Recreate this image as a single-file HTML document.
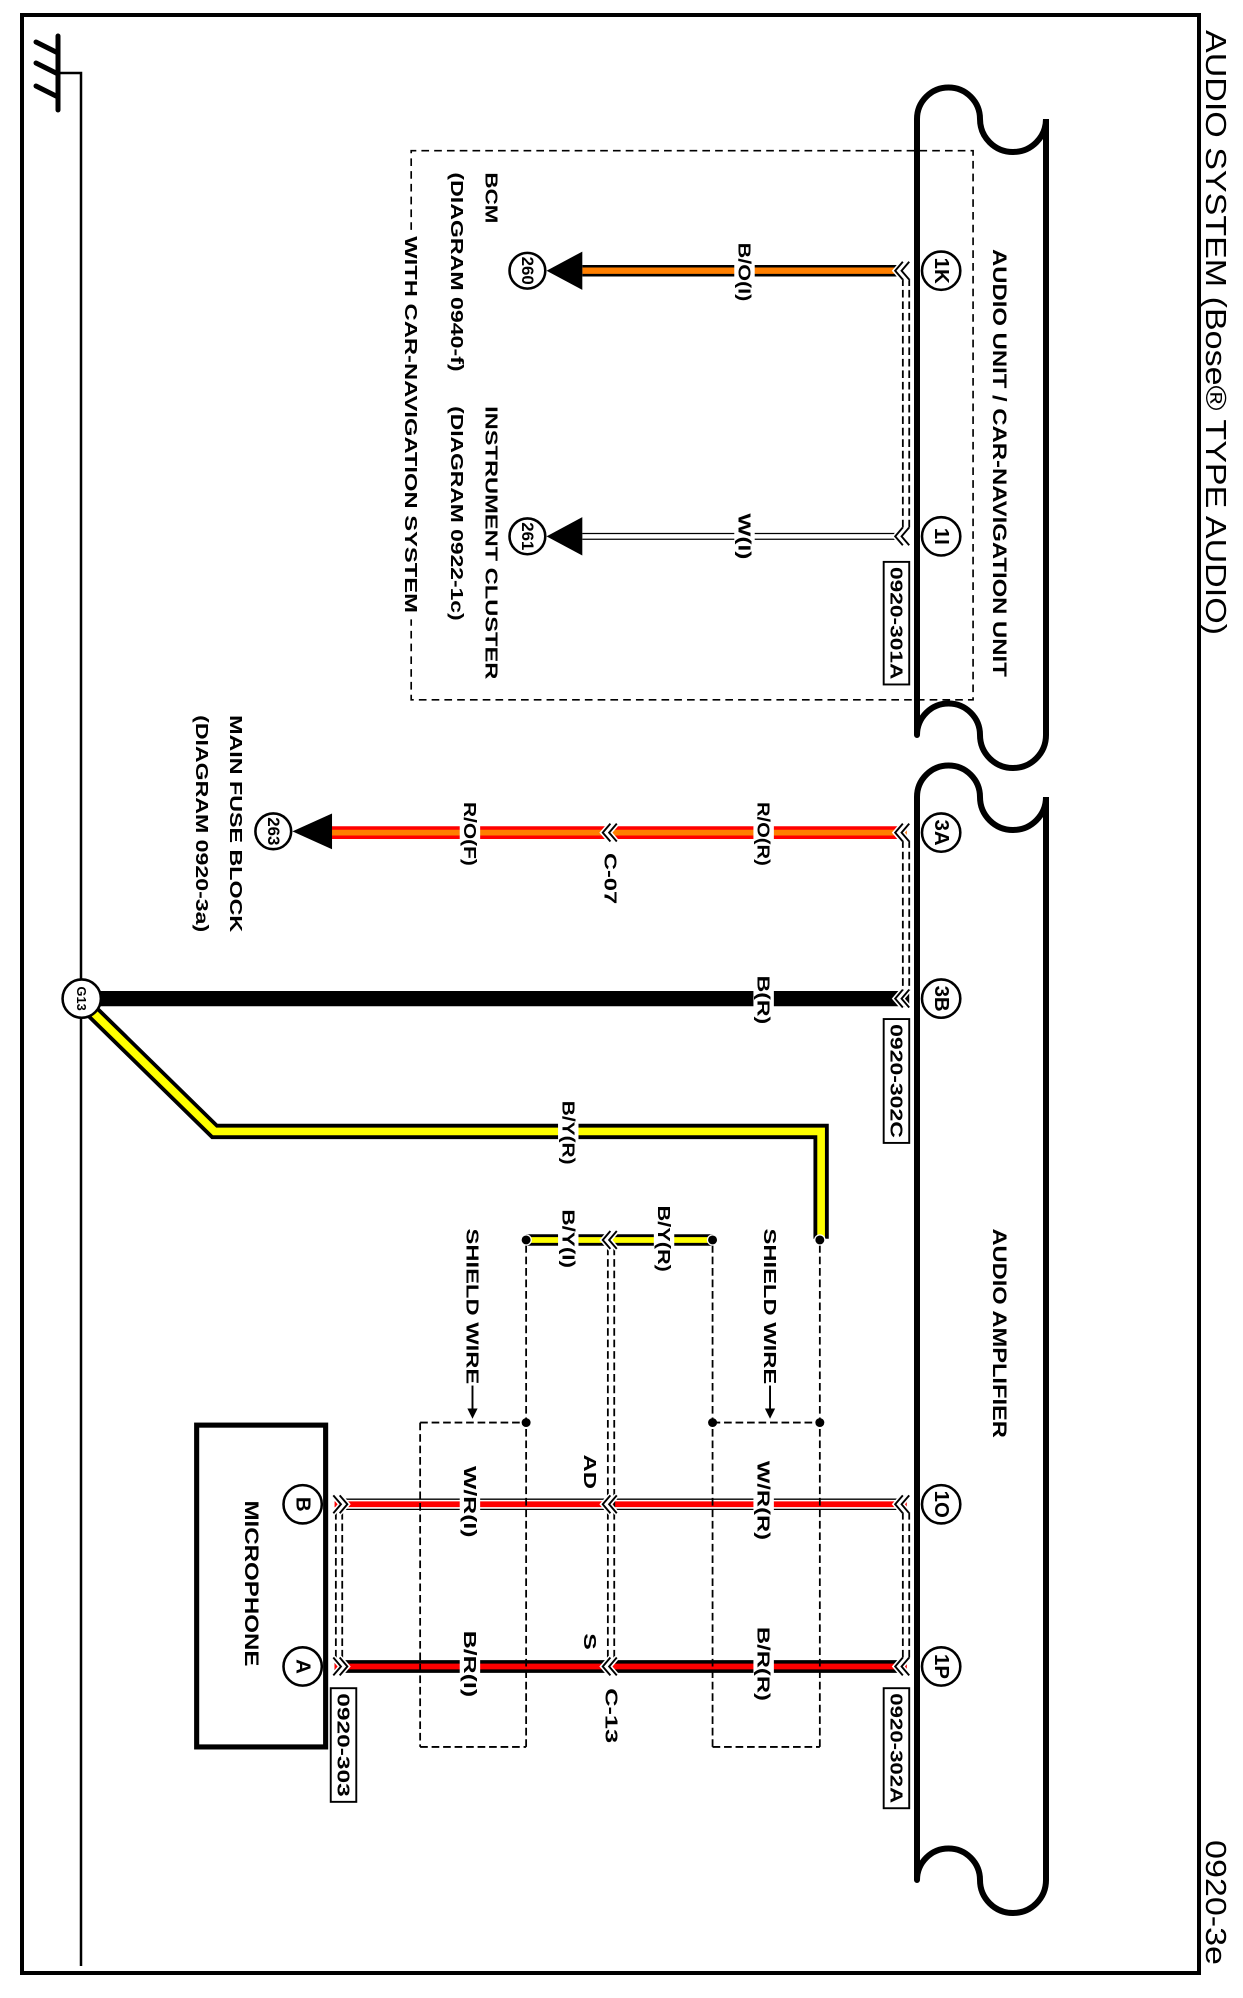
<!DOCTYPE html>
<html><head><meta charset="utf-8"><style>
html,body{margin:0;padding:0;background:#fff;}
svg{display:block;}
text{font-family:"Liberation Sans Narrow","Liberation Sans",Arial,sans-serif;fill:#000;font-weight:bold;}
</style></head><body>
<svg width="1243" height="1998" viewBox="0 0 1243 1998" xmlns="http://www.w3.org/2000/svg">
<rect x="22" y="15" width="1177" height="1958" fill="none" stroke="#000" stroke-width="4"/>
<g stroke="#000" stroke-width="5" stroke-linecap="round" fill="none">
<line x1="58" y1="36" x2="58" y2="110"/>
<line x1="36" y1="42" x2="56" y2="52"/>
<line x1="36" y1="63" x2="56" y2="73"/>
<line x1="36" y1="86" x2="56" y2="96"/>
</g>
<polyline points="58,73 81,73 81,1966" fill="none" stroke="#000" stroke-width="2.5"/>
<path d="M917,735 L917,119 A31.5,31.5 0 0 1 980,119 A33,33 0 0 0 1046,119 L1046,735 A33,33 0 0 1 980,735 A31.5,31.5 0 0 0 917,735" fill="none" stroke="#000" stroke-width="6" stroke-linecap="round"/>
<path d="M917,1880 L917,797 A31.5,31.5 0 0 1 980,797 A33,33 0 0 0 1046,797 L1046,1880 A33,33 0 0 1 980,1880 A31.5,31.5 0 0 0 917,1880" fill="none" stroke="#000" stroke-width="6" stroke-linecap="round"/>
<text transform="translate(1215,30) rotate(90)" font-size="29" style="font-weight:normal" dominant-baseline="central" textLength="605" lengthAdjust="spacingAndGlyphs">AUDIO SYSTEM (Bose® TYPE AUDIO)</text>
<text transform="translate(1215,1840) rotate(90)" font-size="29" style="font-weight:normal" dominant-baseline="central" textLength="125" lengthAdjust="spacingAndGlyphs">0920-3e</text>

<g transform="scale(1.277)">
<path d="M322,180 L322,118 L762,118 L762,548 L322,548 L322,485" fill="none" stroke="#000" stroke-width="1.3" stroke-dasharray="6,4"/>
<text transform="translate(322,185) rotate(90)" font-size="14" dominant-baseline="central" textLength="295" lengthAdjust="spacingAndGlyphs">WITH CAR-NAVIGATION SYSTEM</text>
<text transform="translate(385,135) rotate(90)" font-size="14" dominant-baseline="central" textLength="40" lengthAdjust="spacingAndGlyphs">BCM</text>
<text transform="translate(358,135) rotate(90)" font-size="14" dominant-baseline="central" textLength="156" lengthAdjust="spacingAndGlyphs">(DIAGRAM 0940-f)</text>
<text transform="translate(385,318) rotate(90)" font-size="14" dominant-baseline="central" textLength="214" lengthAdjust="spacingAndGlyphs">INSTRUMENT CLUSTER</text>
<text transform="translate(358,318) rotate(90)" font-size="14" dominant-baseline="central" textLength="168" lengthAdjust="spacingAndGlyphs">(DIAGRAM 0922-1c)</text>
<text transform="translate(782,195) rotate(90)" font-size="15" dominant-baseline="central" textLength="335" lengthAdjust="spacingAndGlyphs">AUDIO UNIT / CAR-NAVIGATION UNIT</text>
<text transform="translate(782,962) rotate(90)" font-size="15" dominant-baseline="central" textLength="164" lengthAdjust="spacingAndGlyphs">AUDIO AMPLIFIER</text>
<text transform="translate(185,560) rotate(90)" font-size="14" dominant-baseline="central" textLength="170" lengthAdjust="spacingAndGlyphs">MAIN FUSE BLOCK</text>
<text transform="translate(158,560) rotate(90)" font-size="14" dominant-baseline="central" textLength="170" lengthAdjust="spacingAndGlyphs">(DIAGRAM 0920-3a)</text>

<line x1="456" y1="212" x2="705" y2="212" stroke="#000" stroke-width="9"/>
<line x1="456" y1="212" x2="705" y2="212" stroke="#ff7f00" stroke-width="5"/>
<line x1="456" y1="420" x2="705" y2="420" stroke="#000" stroke-width="5.5"/>
<line x1="456" y1="420" x2="705" y2="420" stroke="#fff" stroke-width="3.5"/>
<line x1="258" y1="652" x2="710" y2="652" stroke="#ff0000" stroke-width="10"/>
<line x1="258" y1="652" x2="710" y2="652" stroke="#ff7f00" stroke-width="4.5"/>
<line x1="75" y1="782" x2="712" y2="782" stroke="#000" stroke-width="12"/>
<polyline points="70,790 168,886 643,886 643,970" fill="none" stroke="#000" stroke-width="12"/>
<polyline points="70,790 168,886 643,886 643,970" fill="none" stroke="#ffff00" stroke-width="6"/>
<line x1="412" y1="971" x2="558" y2="971" stroke="#000" stroke-width="9"/>
<line x1="412" y1="971" x2="558" y2="971" stroke="#ffff00" stroke-width="4.5"/>
<line x1="262" y1="1178" x2="710" y2="1178" stroke="#000" stroke-width="9"/>
<line x1="262" y1="1178" x2="710" y2="1178" stroke="#fff" stroke-width="7"/>
<line x1="262" y1="1178" x2="710" y2="1178" stroke="#ff0000" stroke-width="4.5"/>
<line x1="262" y1="1305" x2="710" y2="1305" stroke="#000" stroke-width="10"/>
<line x1="262" y1="1305" x2="710" y2="1305" stroke="#ff0000" stroke-width="4.5"/>

<g fill="none" stroke="#000" stroke-width="1.4" stroke-dasharray="6,3">
<line x1="707" y1="218" x2="707" y2="414"/><line x1="712" y1="218" x2="712" y2="414"/>
<line x1="707" y1="658" x2="707" y2="776"/><line x1="712" y1="658" x2="712" y2="776"/>
<line x1="707" y1="1184" x2="707" y2="1299"/><line x1="712" y1="1184" x2="712" y2="1299"/>
<line x1="263" y1="1184" x2="263" y2="1299"/><line x1="268" y1="1184" x2="268" y2="1299"/>
<line x1="476" y1="977" x2="476" y2="1299"/><line x1="481" y1="977" x2="481" y2="1299"/>
<line x1="642" y1="975" x2="642" y2="1368"/>
<line x1="558" y1="975" x2="558" y2="1368"/>
<line x1="558" y1="1114" x2="642" y2="1114"/><line x1="558" y1="1368" x2="642" y2="1368"/>
<line x1="412" y1="975" x2="412" y2="1368"/>
<line x1="329" y1="1114" x2="329" y2="1368"/>
<line x1="329" y1="1114" x2="412" y2="1114"/><line x1="329" y1="1368" x2="412" y2="1368"/>
</g>
<g fill="#000">
<circle cx="642" cy="1114" r="3.5"/><circle cx="558" cy="1114" r="3.5"/><circle cx="412" cy="1114" r="3.5"/>
</g>
<g fill="#000" stroke="#fff" stroke-width="1">
<circle cx="642" cy="971" r="4"/><circle cx="558" cy="971" r="4"/><circle cx="412" cy="971" r="4"/>
</g>
<text transform="translate(603,962) rotate(90)" font-size="14" dominant-baseline="central" textLength="122" lengthAdjust="spacingAndGlyphs">SHIELD WIRE</text>
<line x1="603" y1="1085" x2="603" y2="1104" stroke="#000" stroke-width="1.5"/><polygon points="599,1103 607,1103 603,1111" fill="#000"/>
<text transform="translate(370,962) rotate(90)" font-size="14" dominant-baseline="central" textLength="122" lengthAdjust="spacingAndGlyphs">SHIELD WIRE</text>
<line x1="370" y1="1085" x2="370" y2="1104" stroke="#000" stroke-width="1.5"/><polygon points="366,1103 374,1103 370,1111" fill="#000"/>

<g fill="none" stroke="#fff" stroke-width="4">
<path d="M707,205 L701,212 L707,219 M712,205 L706,212 L712,219"/>
<path d="M707,413 L701,420 L707,427 M712,413 L706,420 L712,427"/>
<path d="M707,645 L701,652 L707,659 M712,645 L706,652 L712,659"/>
<path d="M707,775 L701,782 L707,789 M712,775 L706,782 L712,789"/>
<path d="M707,1171 L701,1178 L707,1185 M712,1171 L706,1178 L712,1185"/>
<path d="M707,1298 L701,1305 L707,1312 M712,1298 L706,1305 L712,1312"/>
<path d="M478,645 L472,652 L478,659 M483,645 L477,652 L483,659"/>
<path d="M478,964 L472,971 L478,978 M483,964 L477,971 L483,978"/>
<path d="M478,1171 L472,1178 L478,1185 M483,1171 L477,1178 L483,1185"/>
<path d="M478,1298 L472,1305 L478,1312 M483,1298 L477,1305 L483,1312"/>
<path d="M261,1171 L267,1178 L261,1185 M266,1171 L272,1178 L266,1185"/>
<path d="M261,1298 L267,1305 L261,1312 M266,1298 L272,1305 L266,1312"/>
</g>
<g fill="none" stroke="#000" stroke-width="1.5">
<path d="M707,205 L701,212 L707,219 M712,205 L706,212 L712,219"/>
<path d="M707,413 L701,420 L707,427 M712,413 L706,420 L712,427"/>
<path d="M707,645 L701,652 L707,659 M712,645 L706,652 L712,659"/>
<path d="M707,775 L701,782 L707,789 M712,775 L706,782 L712,789"/>
<path d="M707,1171 L701,1178 L707,1185 M712,1171 L706,1178 L712,1185"/>
<path d="M707,1298 L701,1305 L707,1312 M712,1298 L706,1305 L712,1312"/>
<path d="M478,645 L472,652 L478,659 M483,645 L477,652 L483,659"/>
<path d="M478,964 L472,971 L478,978 M483,964 L477,971 L483,978"/>
<path d="M478,1171 L472,1178 L478,1185 M483,1171 L477,1178 L483,1185"/>
<path d="M478,1298 L472,1305 L478,1312 M483,1298 L477,1305 L483,1312"/>
<path d="M261,1171 L267,1178 L261,1185 M266,1171 L272,1178 L266,1185"/>
<path d="M261,1298 L267,1305 L261,1312 M266,1298 L272,1305 L266,1312"/>
</g>

<g font-size="14">
<rect x="575" y="200" width="16" height="24" fill="#fff"/>
<text transform="translate(583,190) rotate(90)" dominant-baseline="central" textLength="46" lengthAdjust="spacingAndGlyphs">B/O(I)</text>
<rect x="575" y="410" width="16" height="20" fill="#fff"/>
<text transform="translate(583,402) rotate(90)" dominant-baseline="central" textLength="36" lengthAdjust="spacingAndGlyphs">W(I)</text>
<rect x="590" y="640" width="16" height="24" fill="#fff"/>
<text transform="translate(598,628) rotate(90)" dominant-baseline="central" textLength="50" lengthAdjust="spacingAndGlyphs">R/O(R)</text>
<rect x="360" y="640" width="16" height="24" fill="#fff"/>
<text transform="translate(368,628) rotate(90)" dominant-baseline="central" textLength="50" lengthAdjust="spacingAndGlyphs">R/O(F)</text>
<text transform="translate(478,668) rotate(90)" dominant-baseline="central" textLength="40" lengthAdjust="spacingAndGlyphs">C-07</text>
<rect x="590" y="770" width="16" height="24" fill="#fff"/>
<text transform="translate(598,764) rotate(90)" dominant-baseline="central" textLength="38" lengthAdjust="spacingAndGlyphs">B(R)</text>
<rect x="437" y="875" width="16" height="22" fill="#fff"/>
<text transform="translate(445,862) rotate(90)" dominant-baseline="central" textLength="50" lengthAdjust="spacingAndGlyphs">B/Y(R)</text>
<rect x="437" y="962" width="16" height="18" fill="#fff"/>
<text transform="translate(445,947) rotate(90)" dominant-baseline="central" textLength="46" lengthAdjust="spacingAndGlyphs">B/Y(I)</text>
<rect x="512" y="962" width="16" height="18" fill="#fff"/>
<text transform="translate(520,944) rotate(90)" dominant-baseline="central" textLength="52" lengthAdjust="spacingAndGlyphs">B/Y(R)</text>
<rect x="590" y="1166" width="16" height="24" fill="#fff"/>
<text transform="translate(598,1144) rotate(90)" dominant-baseline="central" textLength="62" lengthAdjust="spacingAndGlyphs">W/R(R)</text>
<rect x="360" y="1166" width="16" height="24" fill="#fff"/>
<text transform="translate(368,1148) rotate(90)" dominant-baseline="central" textLength="56" lengthAdjust="spacingAndGlyphs">W/R(I)</text>
<rect x="590" y="1293" width="16" height="24" fill="#fff"/>
<text transform="translate(598,1274) rotate(90)" dominant-baseline="central" textLength="58" lengthAdjust="spacingAndGlyphs">B/R(R)</text>
<rect x="360" y="1293" width="16" height="24" fill="#fff"/>
<text transform="translate(368,1277) rotate(90)" dominant-baseline="central" textLength="52" lengthAdjust="spacingAndGlyphs">B/R(I)</text>
<text transform="translate(462,1139) rotate(90)" dominant-baseline="central" textLength="27" lengthAdjust="spacingAndGlyphs">AD</text>
<text transform="translate(462,1279) rotate(90)" dominant-baseline="central" textLength="13" lengthAdjust="spacingAndGlyphs">S</text>
<text transform="translate(479,1322) rotate(90)" dominant-baseline="central" textLength="43" lengthAdjust="spacingAndGlyphs">C-13</text>
</g>

<polygon points="428,212 456,197 456,227" fill="#000"/>
<polygon points="428,420 456,405 456,435" fill="#000"/>
<polygon points="229,651 260,637 260,665" fill="#000"/>
<g fill="#fff" stroke="#000" stroke-width="2">
<circle cx="413" cy="212" r="14"/><circle cx="413" cy="420" r="14"/><circle cx="214" cy="651" r="14"/>
<circle cx="64" cy="782" r="15"/>
<circle cx="737" cy="212" r="15"/><circle cx="737" cy="420" r="15"/>
<circle cx="737" cy="652" r="15"/><circle cx="737" cy="782" r="15"/>
<circle cx="737" cy="1178" r="15"/><circle cx="737" cy="1305" r="15"/>
<circle cx="237" cy="1178" r="15"/><circle cx="237" cy="1305" r="15"/>
</g>
<g font-size="13" text-anchor="middle">
<text transform="translate(413,212) rotate(90)" dominant-baseline="central" textLength="22" lengthAdjust="spacingAndGlyphs">260</text>
<text transform="translate(413,420) rotate(90)" dominant-baseline="central" textLength="22" lengthAdjust="spacingAndGlyphs">261</text>
<text transform="translate(214,651) rotate(90)" dominant-baseline="central" textLength="22" lengthAdjust="spacingAndGlyphs">263</text>
<text transform="translate(64,782) rotate(90)" dominant-baseline="central" font-size="10">G13</text>
<text transform="translate(737,212) rotate(90)" dominant-baseline="central" font-size="16">1K</text>
<text transform="translate(737,420) rotate(90)" dominant-baseline="central" font-size="16">1I</text>
<text transform="translate(737,652) rotate(90)" dominant-baseline="central" font-size="16">3A</text>
<text transform="translate(737,782) rotate(90)" dominant-baseline="central" font-size="16">3B</text>
<text transform="translate(737,1178) rotate(90)" dominant-baseline="central" font-size="16">1O</text>
<text transform="translate(737,1305) rotate(90)" dominant-baseline="central" font-size="16">1P</text>
<text transform="translate(237,1178) rotate(90)" dominant-baseline="central" font-size="16">B</text>
<text transform="translate(237,1305) rotate(90)" dominant-baseline="central" font-size="16">A</text>
</g>

<rect x="154" y="1116" width="101" height="252" fill="none" stroke="#000" stroke-width="4"/>
<text transform="translate(196,1175) rotate(90)" font-size="15" dominant-baseline="central" textLength="130" lengthAdjust="spacingAndGlyphs">MICROPHONE</text>

<g fill="#fff" stroke="#000" stroke-width="1.5">
<rect x="692" y="440" width="20" height="96"/>
<rect x="692" y="798" width="20" height="97"/>
<rect x="692" y="1322" width="20" height="94"/>
<rect x="259" y="1322" width="20" height="89"/>
</g>
<g font-size="14">
<text transform="translate(702,444) rotate(90)" dominant-baseline="central" textLength="88" lengthAdjust="spacingAndGlyphs">0920-301A</text>
<text transform="translate(702,802) rotate(90)" dominant-baseline="central" textLength="89" lengthAdjust="spacingAndGlyphs">0920-302C</text>
<text transform="translate(702,1326) rotate(90)" dominant-baseline="central" textLength="86" lengthAdjust="spacingAndGlyphs">0920-302A</text>
<text transform="translate(269,1326) rotate(90)" dominant-baseline="central" textLength="81" lengthAdjust="spacingAndGlyphs">0920-303</text>
</g>
</g>
</svg>
</body></html>
